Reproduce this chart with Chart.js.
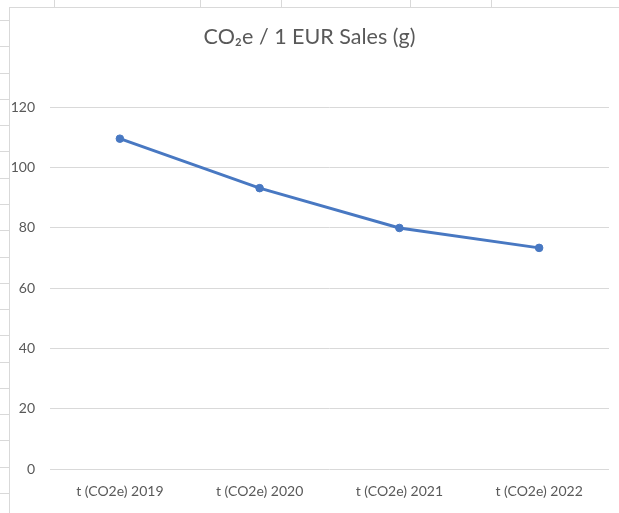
<!DOCTYPE html>
<html>
<head>
<meta charset="utf-8">
<script src="https://cdn.jsdelivr.net/npm/chart.js@4/dist/chart.umd.min.js"></script>
<style>
  html, body { margin: 0; padding: 0; background: #fff; }
  body { width: 619px; height: 513px; position: relative; overflow: hidden; }
  .sheet-h { position: absolute; left: 0; width: 10px; height: 1px; background: #d9d9d9; }
  .sheet-v { position: absolute; top: 0; width: 1px; height: 7px; background: #d9d9d9; }
  #frame { position: absolute; left: 9px; top: 7px; width: 610px; height: 506px;
           border-left: 1px solid #d9d9d9; border-top: 1px solid #d9d9d9; box-sizing: border-box; background: #fff; }
  #wrap { position: absolute; left: 10px; top: 8px; width: 609px; height: 505px; }
</style>
</head>
<body>
<div id="frame"></div>
<div id="wrap"><canvas id="c" width="609" height="505"></canvas></div>
<script>
// Data
const categories = ["t (CO2e) 2019", "t (CO2e) 2020", "t (CO2e) 2021", "t (CO2e) 2022"];
const values = [109.5, 93.1, 79.9, 73.3];
const titleText = "CO₂e / 1 EUR Sales (g)";

// Spreadsheet background decoration (not data)
(function () {
  const rowY = 20, rowStep = 26.28;
  for (let i = 0; i < 19; i++) {
    const d = document.createElement('div');
    d.className = 'sheet-h';
    d.style.top = Math.round(rowY + i * rowStep) + 'px';
    document.body.insertBefore(d, document.body.firstChild);
  }
  [54, 200, 281, 410, 491].forEach(x => {
    const d = document.createElement('div');
    d.className = 'sheet-v';
    d.style.left = x + 'px';
    document.body.insertBefore(d, document.body.firstChild);
  });
})();

const textColor = '#595959';
const gridColor = '#d9d9d9';
const lineColor = '#4878c2';

new Chart(document.getElementById('c'), {
  type: 'line',
  data: {
    labels: categories,
    datasets: [{
      data: values,
      borderColor: lineColor,
      backgroundColor: lineColor,
      borderWidth: 3,
      pointRadius: 3.8,
      pointBorderWidth: 1,
      pointBackgroundColor: lineColor,
      pointBorderColor: lineColor,
      tension: 0,
      fill: false
    }]
  },
  options: {
    responsive: false,
    animation: false,
    events: [],
    layout: { padding: { left: 0, right: 10, top: 0, bottom: 0 } },
    plugins: {
      legend: { display: false },
      tooltip: { enabled: false },
      title: {
        display: true,
        text: titleText,
        color: textColor,
        font: { family: 'Lato, "Open Sans", sans-serif', size: 21.5, weight: 'normal' },
        padding: { top: 16.5, bottom: 56.7 }
      }
    },
    scales: {
      x: {
        type: 'category',
        offset: true,
        grid: { display: false, drawTicks: false },
        border: { display: false },
        ticks: {
          color: textColor,
          font: { family: 'Lato, "Open Sans", sans-serif', size: 14 },
          padding: 13.6,
          maxRotation: 0,
          autoSkip: false
        }
      },
      y: {
        min: 0,
        max: 120,
        afterFit: (s) => { s.width = 40; },
        grid: { color: gridColor, lineWidth: 1, drawTicks: false },
        border: { display: false },
        ticks: {
          stepSize: 20,
          color: textColor,
          font: { family: 'Lato, "Open Sans", sans-serif', size: 14 },
          padding: 15
        }
      }
    }
  }
});
</script>
</body>
</html>
